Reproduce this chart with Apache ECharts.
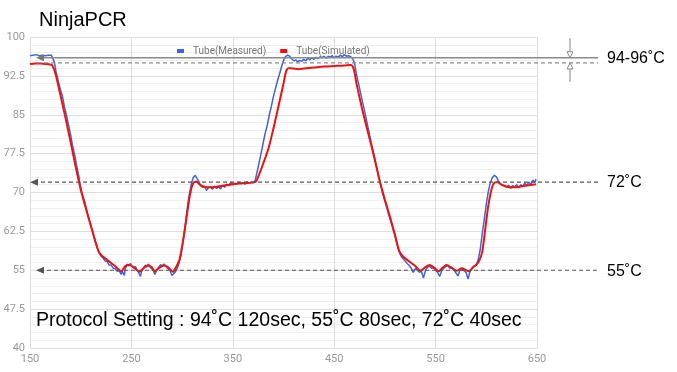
<!DOCTYPE html>
<html>
<head>
<meta charset="utf-8">
<script src="https://cdn.jsdelivr.net/npm/echarts@6/dist/echarts.min.js"></script>
<style>
  html, body { margin: 0; padding: 0; background: #fff; }
  #chart { width: 677px; height: 372px; }
</style>
</head>
<body>
<div id="chart"></div>
<script>
// x ticks / y ticks
const timeTicks = [150, 250, 350, 450, 550, 650]
const tempTicks = [40, 47.5, 55, 62.5, 70, 77.5, 85, 92.5, 100]

const measured = [
  [150,96.4],[151,96.6],[153,96.5],[154,96.8],[156,96.6],[157,96.7],[159,96.4],[160,96.6],[162,96.5],[163,96.7],
  [165,96.4],[166,96.6],[168,96.5],[169,96.7],[171,96.5],[172,96.3],[174,95.2],[176,93.0],[178,91.4],[180,89.9],
  [182,88.6],[184,86.5],[186,84.9],[188,83.0],[190,81.2],[192,79.0],[194,77.3],[196,75.2],[198,73.3],[200,71.0],
  [202,69.4],[204,68.2],[206,66.4],[208,65.0],[210,63.6],[212,62.4],[214,60.8],[216,59.5],[218,58.4],[220,57.7],
  [222,57.4],[224,56.8],[226,56.7],[228,56.0],[230,56.0],[232,55.4],[234,55.3],[236,54.8],[238,54.9],[240,54.2],
  [241,54.8],[243,54.0],[244,55.3],[246,56.2],[247,55.8],[249,56.3],[250,55.9],[252,55.5],[254,55.7],[256,54.9],
  [257,54.6],[259,53.8],[260,54.8],[262,55.5],[264,56.0],[265,55.6],[267,56.2],[268,55.7],[270,55.3],[272,54.8],
  [273,54.2],[275,55.0],[277,55.6],[279,56.1],[280,55.7],[282,56.2],[284,55.8],[286,55.3],[288,55.0],[290,54.0],
  [291,53.7],[293,54.6],[295,55.2],[297,56.4],[299,58.0],[301,60.5],[303,63.5],[305,66.8],[307,69.5],[309,71.6],
  [311,72.9],[313,73.3],[314,73.1],[316,72.3],[318,71.5],[320,71.0],[322,71.2],[324,70.4],[326,70.9],[328,71.1],
  [330,70.6],[332,71.2],[334,70.8],[336,71.1],[338,70.7],[340,71.4],[342,71.0],[344,71.6],[346,71.3],[348,72.0],
  [350,71.5],[352,71.8],[354,71.6],[356,72.0],[358,71.7],[360,71.9],[362,71.6],[364,72.1],[366,71.8],[368,72.0],
  [370,71.9],[372,72.3],[374,74.0],[376,75.8],[378,77.6],[380,79.6],[382,81.5],[384,83.0],[386,85.0],[388,86.6],
  [390,88.5],[392,90.0],[394,91.5],[396,92.8],[398,94.2],[400,95.5],[402,96.2],[404,96.5],[406,96.3],[408,95.8],
  [410,95.4],[412,95.6],[414,95.2],[416,95.5],[418,95.3],[420,95.7],[422,95.4],[424,95.9],[426,95.6],[428,96.0],
  [430,95.7],[432,96.1],[434,95.8],[436,96.2],[438,96.0],[440,96.3],[442,95.9],[444,96.3],[446,96.1],[448,96.4],
  [450,96.0],[452,96.3],[454,96.1],[456,96.5],[458,96.2],[460,96.6],[462,96.3],[464,96.4],[466,96.2],[468,95.9],
  [470,95.0],[472,92.8],[474,91.0],[476,89.2],[478,87.4],[480,85.7],[482,83.8],[484,82.0],[486,80.0],[488,78.3],
  [490,76.6],[492,74.8],[494,73.0],[496,71.4],[498,69.6],[500,68.3],[502,67.0],[504,65.6],[506,64.3],[508,62.9],
  [510,61.6],[512,60.0],[514,58.6],[516,57.7],[518,57.2],[520,56.8],[522,56.3],[524,55.9],[526,55.4],[528,54.6],
  [530,55.3],[532,55.0],[534,54.6],[536,54.8],[538,53.5],[540,54.9],[542,55.6],[544,55.8],[546,55.4],[548,55.5],
  [550,55.0],[552,54.6],[554,53.8],[556,54.9],[558,55.4],[560,55.7],[562,55.9],[564,55.4],[566,55.5],[568,55.1],
  [570,54.5],[572,53.9],[574,55.0],[576,55.3],[578,54.9],[580,54.6],[582,53.3],[584,54.8],[586,55.4],[588,55.8],
  [590,56.0],[592,57.0],[594,59.0],[596,62.0],[598,64.8],[600,67.8],[602,70.2],[604,71.9],[606,72.9],[608,73.3],
  [610,73.0],[612,72.2],[614,71.6],[616,71.4],[618,71.3],[620,71.1],[622,71.4],[624,70.8],[626,71.3],[628,71.1],
  [630,71.5],[632,70.9],[634,71.5],[636,71.2],[638,71.8],[640,71.4],[642,72.0],[644,71.6],[646,72.4],[648,71.9],
  [649,72.6]
]

// [sec, degC] read off the simulated (red) trace
const simulated = [
  [150,94.8],[155,94.9],[160,94.9],[165,94.8],[170,94.7],[172,94.5],[175,93.0],[180,88.8],[185,84.4],[190,79.8],
  [195,75.0],[200,70.6],[205,67.0],[210,63.6],[215,60.2],[218,58.5],[222,57.6],[226,57.0],[230,56.4],[235,55.6],
  [240,54.8],[244,55.8],[248,56.0],[252,55.6],[258,54.7],[262,55.4],[266,55.9],[270,55.6],[273,54.8],[277,55.4],
  [282,55.9],[286,55.6],[291,54.7],[294,55.6],[297,56.8],[299,58.5],[302,62.0],[305,66.0],[308,69.8],[311,71.8],
  [314,72.1],[317,71.6],[320,71.2],[325,71.0],[330,71.0],[340,71.3],[350,71.6],[360,71.8],[372,72.0],[375,73.0],
  [380,75.6],[385,78.4],[390,82.3],[395,86.6],[400,91.0],[403,93.6],[406,94.0],[410,93.9],[415,93.8],[420,93.9],
  [430,94.1],[440,94.3],[450,94.4],[460,94.5],[466,94.6],[469,94.0],[472,91.0],[477,86.6],[482,82.6],[487,78.8],
  [491,75.5],[495,72.1],[500,68.6],[505,65.3],[510,61.8],[514,58.8],[518,57.6],[522,57.0],[526,56.4],[530,55.8],
  [535,54.9],[540,55.6],[544,56.0],[548,55.6],[553,54.8],[557,55.5],[561,56.0],[565,55.6],[571,54.9],[576,55.4],
  [580,55.0],[583,54.8],[587,55.6],[590,56.0],[593,56.8],[596,58.6],[599,63.0],[602,67.5],[605,70.5],[608,71.9],
  [611,72.0],[615,71.5],[620,71.1],[627,71.0],[635,71.2],[642,71.4],[649,71.6]
]

// guide levels drawn across the plot (degC)
const topSolid = 96
const topDashed = 95
const annealLevel = 55
const extendLevel = 72

const chart = echarts.init(document.getElementById('chart'))

const font = 'Liberation Sans, Arial, sans-serif'

chart.setOption({
  animation: false,
  grid: { left: 30, right: 140, top: 37, bottom: 24 },
  title: {
    text: 'NinjaPCR', left: 34, top: 5,
    textStyle: { fontFamily: font, fontSize: 20, fontWeight: 'normal', color: '#000' }
  },
  legend: {
    data: ['Tube(Measured)', 'Tube(Simulated)'],
    left: 172, top: 41,
    icon: 'rect', itemWidth: 7, itemHeight: 4, itemGap: 14,
    textStyle: { fontFamily: 'Roboto, sans-serif', fontSize: 10, color: '#777', padding: [0, 0, 0, 4] }
  },
  xAxis: {
    type: 'value', min: timeTicks[0], max: timeTicks[timeTicks.length - 1], interval: 100,
    axisLine: { show: false }, axisTick: { show: false },
    axisLabel: { color: '#999', fontFamily: 'Roboto, sans-serif', fontSize: 11, margin: 6 },
    splitLine: { lineStyle: { color: '#dedede', width: 1 } }
  },
  yAxis: {
    type: 'value', min: tempTicks[0], max: tempTicks[tempTicks.length - 1], interval: 7.5,
    axisLine: { show: false }, axisTick: { show: false },
    axisLabel: { color: '#999', fontFamily: 'Roboto, sans-serif', fontSize: 11, margin: 5 },
    splitLine: { lineStyle: { color: '#dedede', width: 1 } },
    minorTick: { show: false, splitNumber: 5 },
    minorSplitLine: { show: true, lineStyle: { color: '#efefef', width: 1 } }
  },
  series: [
    {
      name: 'Tube(Measured)', type: 'line', data: measured,
      showSymbol: false, color: '#3f65d8',
      lineStyle: { width: 1.5, color: '#3f65d8' }
    },
    {
      name: 'Tube(Simulated)', type: 'line', data: simulated,
      showSymbol: false, smooth: 0.3, color: '#f01010',
      lineStyle: { width: 2, color: '#f01010' }
    }
  ]
})

// annotation lines hang off the y scale, right end goes past the plot
const yPx = v => chart.convertToPixel({ yAxisIndex: 0 }, v)
const rightEnd = 598
const arrowX = 570

function leftArrow(x, y, color) {
  return { type: 'polygon', shape: { points: [[x, y], [x + 8, y - 3.5], [x + 8, y + 3.5]] }, style: { fill: color }, z: 10 }
}
function hLine(x1, y, color, dash, w) {
  return { type: 'line', shape: { x1: x1, y1: y, x2: rightEnd, y2: y }, style: { stroke: color, lineWidth: w, lineDash: dash }, z: 10 }
}
function label(text, y) {
  return { type: 'text', x: 607, y: y, style: { text: text, font: '16px ' + font, fill: '#000', textVerticalAlign: 'middle' }, z: 10 }
}

const ySolid = yPx(topSolid), yDash = yPx(topDashed), y72 = yPx(extendLevel), y55 = yPx(annealLevel)

chart.setOption({
  graphic: [
    hLine(40, ySolid, '#8a8a8a', null, 1.5),
    leftArrow(36, ySolid, '#777'),
    hLine(37, yDash, '#8a8a8a', [4, 3], 1.2),
    hLine(34, y72, '#555', [4, 3], 1.2),
    leftArrow(30, y72, '#555'),
    hLine(40, y55, '#555', [4, 3], 1.2),
    leftArrow(36, y55, '#555'),
    // vertical bracket arrows
    { type: 'line', shape: { x1: arrowX, y1: 38, x2: arrowX, y2: ySolid - 6 }, style: { stroke: '#888', lineWidth: 1 }, z: 10 },
    { type: 'polygon', shape: { points: [[arrowX, ySolid], [arrowX - 3, ySolid - 6], [arrowX + 3, ySolid - 6]] }, style: { fill: '#fff', stroke: '#888', lineWidth: 1 }, z: 10 },
    { type: 'line', shape: { x1: arrowX, y1: 82, x2: arrowX, y2: yDash + 6 }, style: { stroke: '#888', lineWidth: 1 }, z: 10 },
    { type: 'polygon', shape: { points: [[arrowX, yDash], [arrowX - 3, yDash + 6], [arrowX + 3, yDash + 6]] }, style: { fill: '#fff', stroke: '#888', lineWidth: 1 }, z: 10 },
    label('94-96˚C', ySolid + 0.5),
    label('72˚C', y72 + 0.5),
    label('55˚C', y55 + 1),
    {
      type: 'text', x: 36, y: 321,
      style: { text: 'Protocol Setting : 94˚C 120sec, 55˚C 80sec, 72˚C 40sec', font: '19.5px ' + font, fill: '#000', textVerticalAlign: 'middle' },
      z: 10
    }
  ]
})
</script>
</body>
</html>
